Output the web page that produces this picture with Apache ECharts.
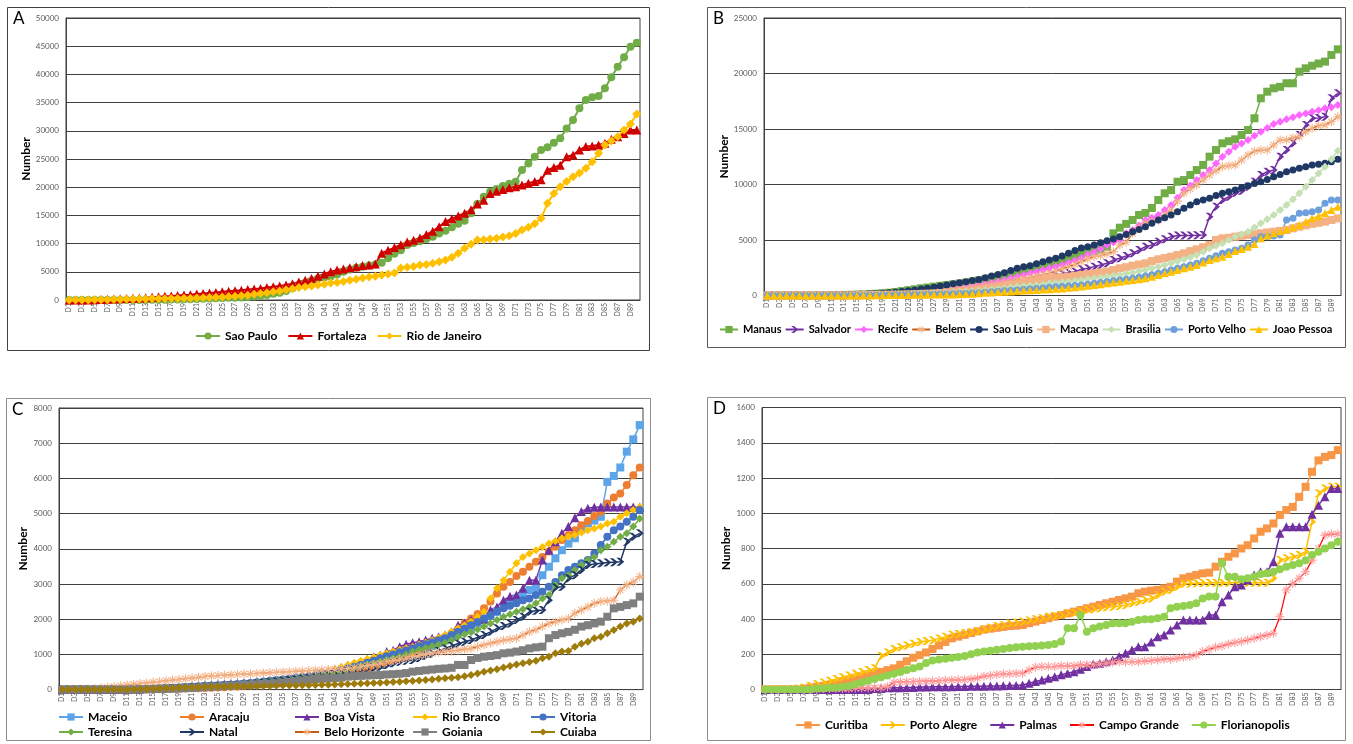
<!DOCTYPE html>
<html><head><meta charset="utf-8">
<script src="https://cdn.jsdelivr.net/npm/echarts@6/dist/echarts.min.js"></script>
<style>html,body{margin:0;padding:0;background:#fff}#chart{width:1353px;height:744px}</style>
</head><body><div id="chart"></div>
<script>
// Day categories D1..D90 (tick labels shown on every other day)
const days = Array.from({length: 90}, (_, i) => 'D' + (i + 1));

// ---- Panel A ----
const saoPaulo = [0,0,0,0,0,0,0,0,0,10, 15,20,30,40,50,60,80,100,120,150, 180,220,260,300,340,380,420,460,500,600,
  750,900,1100,1300,1600,2100,2600,3000,3400,3800, 4000,4150,4500,5000,5400,5700,5900,6100,6300,6600,
  7400,8200,8800,9750,10100,10400,10800,11200,11800,12300, 12900,13500,14060,15400,17000,18300,19200,19700,20200,20600,
  20970,23050,24200,25400,26600,27100,27900,28700,30400,31900, 34000,35460,35940,36170,37530,39490,41370,43030,44900,45620];
const fortaleza = [0,0,0,20,40,80,120,160,200,250, 300,350,420,500,580,650,720,800,880,950, 1050,1150,1250,1350,1450,1550,1650,1750,1850,1950,
  2050,2200,2350,2500,2650,2900,3200,3500,3800,4200, 4600,5000,5300,5500,5700,5900,6100,6200,6400,8300,
  8800,9300,9800,10300,10600,11000,11600,12200,13000,13900, 14400,14900,15400,16000,17000,17700,18900,19300,19600,19900,
  20100,20400,20700,21000,21300,23000,23500,23900,25400,25700, 26600,27200,27300,27500,27800,28500,28960,29500,30150,30150];
const rioDeJaneiro = [0,0,10,20,30,40,60,80,100,120, 140,160,180,200,220,240,260,280,300,330, 360,400,450,500,550,600,650,750,850,1000,
  1150,1300,1450,1600,1800,2000,2200,2350,2500,2650, 2800,3000,3100,3300,3500,3700,3900,4100,4200,4430,
  4600,4800,5670,5800,5950,6200,6300,6500,6800,7100, 7600,8300,9160,9900,10640,10700,10800,10950,11150,11400,
  11800,12400,12900,13500,14480,17150,18900,20100,21000,21870, 22500,23350,24500,26000,27500,28200,28960,30150,31200,33000];

// ---- Panel B ----
const manaus = [0,0,0,0,0,0,0,0,10,20, 30,40,50,60,80,100,130,160,200,250, 320,400,480,560,650,720,800,870,940,1000,
  1080,1160,1250,1350,1450,1580,1700,1850,2000,2150, 2300,2450,2600,2750,2900,3050,3200,3400,3600,3800,
  3900,4000,4150,4400,5600,6110,6450,6800,7250,7430, 7880,8600,9210,9500,10250,10400,10860,11300,11760,12510,
  13110,13710,13900,14070,14460,14910,15970,17770,18360,18670, 18800,19120,19120,20160,20470,20700,20900,21070,21670,22180];
const salvador = [0,0,0,0,0,0,0,0,0,0, 10,20,30,40,50,60,70,80,90,100, 120,140,160,180,200,230,260,290,320,360,
  400,450,500,560,620,700,800,900,1000,1100, 1200,1300,1400,1500,1650,1800,1950,2050,2150,2370,
  2450,2600,2750,2900,3200,3350,3560,3800,4100,4400, 4550,4850,5060,5300,5400,5400,5400,5420,5450,7100,
  8000,8600,8900,9260,9440,9800,10250,10860,11150,11310, 12510,13110,13710,14460,15360,15970,16000,16110,17770,18220];
const recife = [0,0,0,0,0,0,0,0,0,10, 20,30,40,50,60,70,90,110,130,150, 180,210,240,270,300,350,400,470,540,600,
  680,760,850,950,1050,1150,1270,1400,1550,1700, 1850,2000,2150,2300,2450,2600,2750,2950,3150,3380,
  3700,3900,4200,4550,4800,5000,5600,5900,6300,6800, 7000,7250,7700,8150,8800,9500,9900,10400,10850,11310,
  11900,12510,12950,13410,13700,14010,14400,14760,15100,15450, 15650,15870,16050,16260,16400,16560,16700,16870,16960,17160];
const belem = [0,0,0,0,0,0,0,0,0,0, 10,20,30,40,50,60,70,80,90,100, 130,160,200,240,280,330,380,430,480,530,
  590,650,720,800,880,960,1050,1150,1270,1400, 1520,1640,1760,1880,2000,2200,2400,2600,2800,3050,
  3300,3500,3600,3750,3950,4550,4800,5600,6100,6500, 6650,6800,7250,7700,8500,9210,9600,9960,10400,10860,
  11250,11610,11700,11760,12210,12660,13000,13110,13110,13560, 14010,14010,14200,14310,14760,15060,15300,15360,15660,16110];
const saoLuis = [0,0,0,0,0,0,0,0,0,10, 20,30,40,60,80,100,130,160,200,250, 300,360,420,500,580,660,750,850,950,1050,
  1150,1250,1350,1450,1600,1750,1900,2050,2250,2450, 2600,2690,2850,3050,3200,3350,3550,3800,4050,4280,
  4400,4550,4750,4940,5100,5300,5500,5750,5950,6200, 6500,6800,7000,7250,7550,7860,8150,8450,8600,8760,
  9000,9210,9350,9500,9700,9890,10100,10250,10450,10700, 10900,11150,11300,11460,11600,11760,11830,11910,12060,12270];
const macapa = [0,0,0,0,0,0,0,0,0,0, 0,0,0,10,20,30,40,50,60,70, 80,90,100,120,140,160,190,220,260,300,
  350,400,450,520,600,680,760,850,950,1050, 1150,1250,1350,1450,1520,1600,1650,1700,1780,1850,
  1920,2000,2080,2150,2300,2450,2550,2690,2800,2900, 3100,3260,3380,3500,3650,3800,4000,4160,4350,4550,
  5000,5150,5200,5300,5380,5450,5520,5600,5680,5750, 5820,5900,6050,6200,6320,6450,6550,6650,6800,6950];
const brasilia = [0,0,0,0,0,0,0,0,0,0, 10,20,30,40,50,60,70,80,90,100, 110,120,130,150,170,190,210,230,250,280,
  310,350,390,430,480,530,590,650,720,800, 850,900,950,1000,1100,1150,1200,1250,1320,1400,
  1480,1550,1620,1700,1780,1850,1950,2050,2180,2300, 2450,2600,2750,2900,3080,3260,3450,3650,3950,4250,
  4480,4700,5000,5300,5520,5750,6120,6500,6870,7250, 7700,8150,8680,9210,9800,10400,11000,11610,12270,13050];
const portoVelho = [0,0,0,0,0,0,0,0,0,0, 0,0,0,0,0,10,20,30,40,50, 60,70,80,90,100,110,120,130,140,150,
  170,190,220,250,300,340,380,420,460,500, 540,580,620,680,740,780,820,860,900,950,
  1020,1100,1170,1250,1320,1400,1470,1550,1650,1760, 1880,2000,2150,2300,2450,2600,2750,2900,3120,3350,
  3580,3800,3950,4100,4250,4550,5000,5300,5320,5350, 5450,6800,6950,7400,7450,7550,7700,8300,8600,8600];
const joaoPessoa = [0,0,0,0,0,0,0,0,0,0, 0,0,0,0,0,0,10,20,30,40, 50,55,60,65,70,75,80,90,95,100,
  120,140,160,200,250,280,310,340,370,410, 440,470,500,530,560,600,640,690,740,800,
  870,950,1020,1100,1170,1250,1320,1400,1470,1550, 1700,1850,2000,2150,2300,2450,2600,2750,2980,3200,
  3350,3500,3750,4000,4200,4400,4650,5150,5400,5600, 5780,5960,6150,6350,6650,6950,7150,7400,7700,8000];

// ---- Panel C ----
const maceio = [0,0,0,0,0,0,0,0,0,0, 5,8,10,15,20,25,30,40,50,60, 70,80,90,100,110,120,130,140,150,160,
  175,190,205,220,240,260,280,300,325,350, 375,400,430,460,500,540,580,620,660,700,
  770,840,910,960,1000,1080,1160,1240,1320,1400, 1500,1600,1700,1790,1890,1980,2100,2210,2350,2450,
  2590,2730,2830,2900,3250,3490,3730,3960,4150,4300, 4550,4720,4800,4910,5900,6070,6310,6760,7110,7515];
const aracaju = [0,0,0,0,0,0,0,0,0,0, 0,0,0,5,8,10,15,20,25,30, 35,40,45,50,60,70,80,90,100,120,
  140,160,180,200,220,240,260,280,300,320, 340,370,400,430,470,510,550,600,650,700,
  760,820,890,960,1040,1120,1200,1290,1390,1500, 1600,1710,1890,2020,2150,2310,2500,2730,2920,3060,
  3230,3350,3490,3630,3770,3920,4060,4250,4390,4530, 4670,4790,4930,5050,5290,5460,5570,5810,6090,6310];
const boaVista = [0,0,0,0,0,0,0,0,0,0, 10,15,20,30,40,50,60,70,80,100, 110,120,130,140,150,160,170,180,190,200,
  220,240,260,280,300,330,360,390,420,450, 490,530,580,630,690,740,790,860,935,980,
  1080,1120,1220,1290,1330,1360,1410,1460,1500,1550, 1640,1830,1890,1980,1990,2000,2260,2350,2540,2650,
  2690,2880,3110,3110,3680,3960,4200,4440,4630,4880, 5060,5150,5180,5190,5190,5190,5190,5190,5190,5190];
const rioBranco = [0,0,0,0,0,0,0,0,0,0, 5,10,15,20,30,40,50,60,70,80, 90,100,110,120,130,140,150,160,170,180,
  200,220,240,260,280,310,340,370,410,450, 490,530,580,640,700,760,820,870,920,980,
  1030,1080,1130,1180,1220,1280,1340,1400,1470,1550, 1640,1740,1830,1930,2070,2210,2590,2880,3110,3350,
  3590,3770,3870,3960,4050,4150,4220,4300,4350,4390, 4460,4530,4580,4630,4720,4770,4910,5010,5100,5190];
const vitoria = [0,0,0,0,0,0,0,0,0,0, 5,10,15,20,25,30,40,50,60,70, 80,90,100,110,120,130,140,150,170,190,
  210,230,250,270,290,310,330,350,380,410, 440,470,500,540,600,650,700,760,820,890,
  950,1000,1060,1110,1170,1230,1290,1340,1400,1460, 1550,1640,1730,1830,1920,2020,2120,2220,2310,2380,
  2450,2540,2590,2690,2780,2920,3060,3250,3400,3490, 3590,3680,3870,4110,4340,4530,4630,4770,4910,5100];
const teresina = [0,0,0,0,0,0,0,0,0,0, 5,10,15,20,25,30,35,40,50,60, 70,80,90,100,110,120,130,140,160,180,
  200,220,240,260,280,300,320,340,360,380, 410,440,470,510,560,610,660,710,750,790,
  840,890,940,1000,1080,1130,1180,1230,1280,1330, 1400,1500,1570,1630,1710,1790,1880,1980,2070,2140,
  2210,2280,2350,2450,2590,2690,2970,3160,3250,3400, 3540,3680,3770,3960,4060,4200,4340,4440,4630,4860];
const natal = [0,0,0,0,0,0,0,0,0,0, 5,8,10,15,20,25,30,35,40,50, 60,70,80,90,100,110,120,130,140,150,
  170,190,210,230,250,270,290,310,330,350, 380,410,440,470,510,550,580,610,630,650,
  700,750,790,820,840,900,960,1020,1100,1170, 1240,1310,1360,1410,1480,1550,1640,1740,1810,1880,
  1980,2070,2210,2240,2260,2540,2900,2920,3160,3250, 3400,3540,3570,3590,3610,3620,3630,4200,4340,4440];
const beloHorizonte = [0,0,0,10,20,30,50,70,90,110, 130,150,170,190,210,230,250,270,290,310, 330,350,370,390,400,410,420,430,440,450,
  460,470,480,490,500,510,520,530,540,550, 560,570,580,590,600,620,650,680,710,750,
  790,830,860,890,940,970,1000,1030,1060,1080, 1100,1120,1150,1170,1220,1270,1320,1360,1400,1430,
  1460,1550,1640,1700,1790,1880,1930,1980,2020,2170, 2260,2350,2450,2500,2520,2540,2830,2970,3060,3210];
const goiania = [0,0,0,0,0,0,0,0,0,0, 0,0,5,10,15,20,25,30,35,40, 50,60,70,80,90,100,110,120,130,140,
  150,160,170,180,200,220,240,260,280,300, 310,320,330,340,370,380,390,400,410,415,
  430,440,450,470,510,530,550,570,590,600, 620,700,700,840,900,935,955,980,1030,1050,
  1080,1120,1170,1200,1220,1460,1550,1600,1640,1700, 1790,1830,1880,1930,2070,2310,2350,2400,2450,2640];
const cuiaba = [0,0,0,0,0,0,0,0,0,0, 5,10,15,20,25,30,35,40,50,60, 65,70,75,80,82,84,86,88,90,92,
  95,100,105,110,115,118,120,124,127,130, 135,140,145,152,160,168,175,182,188,195,
  205,215,225,235,245,260,275,290,305,320, 335,350,380,415,460,510,545,580,625,670,
  710,750,785,820,890,935,1030,1080,1100,1220, 1300,1360,1460,1500,1600,1690,1790,1880,1930,2020];

// ---- Panel D ----
const curitiba = [0,0,0,0,0,0,5,10,15,20, 25,30,40,50,60,70,80,90,100,110, 120,140,160,180,195,210,230,250,270,290,
  300,310,320,330,340,345,350,355,360,362, 366,376,385,394,404,413,423,432,442,451,
  461,470,480,489,498,508,517,527,546,555, 561,565,574,583,612,631,640,650,659,663,
  697,725,753,772,800,819,857,895,914,942, 990,1018,1036,1093,1150,1235,1300,1320,1330,1358];
const portoAlegre = [0,0,0,0,0,5,10,20,30,40, 50,60,70,80,90,100,110,120,190,210, 230,240,250,260,270,275,280,290,300,310,
  315,320,325,330,340,350,360,365,375,380, 385,391,398,404,413,417,423,432,436,442,
  451,455,461,467,470,474,480,489,498,508, 517,536,555,565,583,600,602,603,604,605,
  605,605,605,605,605,605,606,606,606,631, 735,744,753,763,782,952,1113,1141,1150,1150];
const palmas = [0,0,0,0,0,0,0,0,0,0, 0,0,0,0,0,0,0,5,5,10, 10,10,12,12,14,14,15,15,16,16,
  17,17,18,18,19,20,20,21,22,23, 26,36,45,54,64,73,83,92,101,115,
  130,145,149,158,168,187,206,224,243,243, 270,300,309,338,366,394,394,394,394,423,
  423,498,536,583,593,621,650,668,668,725, 886,923,923,923,923,995,1046,1093,1141,1141];
const campoGrande = [0,0,0,0,0,0,0,0,0,5, 5,5,5,5,8,8,10,10,10,15, 40,42,44,45,46,47,48,50,52,54,
  55,56,60,65,75,80,85,88,90,91, 92,111,126,130,130,130,134,134,134,140,
  140,140,145,149,155,158,158,158,158,161, 164,168,172,172,177,183,187,196,215,228,
  240,247,258,266,272,281,291,300,309,319, 413,565,602,631,668,734,800,876,882,882];
const florianopolis = [0,0,0,0,0,0,0,0,5,5, 10,10,15,20,30,40,50,60,70,80, 90,100,110,120,130,150,165,170,175,180,
  185,190,200,210,215,220,225,230,235,240, 243,245,247,250,253,258,272,347,347,423,
  328,347,357,366,376,376,376,385,394,398, 398,404,413,461,470,474,480,489,517,527,
  527,716,640,640,625,631,640,655,659,668, 682,697,706,716,734,763,782,800,819,838];

// Y axis ranges per panel: [max, interval]
const yRanges = [[50000, 5000], [25000, 5000], [8000, 1000], [1600, 200]];
const panelLetters = ['A', 'B', 'C', 'D'];

const FONT = 'Lato, "Open Sans", sans-serif';
const ASTERISK = 'path://M4.4,0h1.2v10h-1.2z M0,4.4h10v1.2h-10z M1.1,1.9l0.8-0.8l7,7l-0.8,0.8z M8.1,1.1l0.8,0.8l-7,7l-0.8-0.8z';
const CHEVRON = 'path://M0,0 L4,0 L10,5 L4,10 L0,10 L6,5 Z';

// [name, data, line colour, symbol, size, line width, marker colour, panel]
const seriesDefs = [
  ['Sao Paulo', saoPaulo, '#70AD47', 'circle', 8, 2, null, 0],
  ['Fortaleza', fortaleza, '#D00000', 'triangle', 9, 2, null, 0],
  ['Rio de Janeiro', rioDeJaneiro, '#FFC000', 'diamond', 9, 2, null, 0],

  ['Manaus', manaus, '#70AD47', 'rect', 8, 1.5, null, 1],
  ['Salvador', salvador, '#7030A0', CHEVRON, 8, 1.5, null, 1],
  ['Recife', recife, '#FF66FF', 'diamond', 8, 1.5, null, 1],
  ['Belem', belem, '#C55A11', ASTERISK, 9, 1.2, '#F4B183', 1],
  ['Sao Luis', saoLuis, '#1F3864', 'circle', 7, 1.5, null, 1],
  ['Macapa', macapa, '#F4B183', 'rect', 8, 1.5, null, 1],
  ['Brasilia', brasilia, '#C5E0B4', 'diamond', 8, 1.5, null, 1],
  ['Porto Velho', portoVelho, '#6C9FDB', 'circle', 7, 1.5, null, 1],
  ['Joao Pessoa', joaoPessoa, '#FFC000', 'triangle', 8, 1.5, null, 1],

  ['Maceio', maceio, '#5DA5E8', 'rect', 8, 1.5, null, 2],
  ['Aracaju', aracaju, '#ED7D31', 'circle', 8, 1.5, null, 2],
  ['Boa Vista', boaVista, '#7030A0', 'triangle', 9, 1.5, null, 2],
  ['Rio Branco', rioBranco, '#FFC000', 'diamond', 8, 1.5, null, 2],
  ['Vitoria', vitoria, '#4472C4', 'circle', 8, 1.5, null, 2],
  ['Teresina', teresina, '#70AD47', 'diamond', 8, 1.5, null, 2],
  ['Natal', natal, '#203864', CHEVRON, 8, 1.5, null, 2],
  ['Belo Horizonte', beloHorizonte, '#C55A11', ASTERISK, 9, 1.2, '#F4B183', 2],
  ['Goiania', goiania, '#7F7F7F', 'rect', 8, 1.5, null, 2],
  ['Cuiaba', cuiaba, '#9E7C0C', 'diamond', 8, 1.5, null, 2],

  ['Curitiba', curitiba, '#F79646', 'rect', 8, 1.5, null, 3],
  ['Porto Alegre', portoAlegre, '#FFC000', CHEVRON, 8, 1.5, null, 3],
  ['Palmas', palmas, '#7030A0', 'triangle', 9, 1.5, null, 3],
  ['Campo Grande', campoGrande, '#FF0000', ASTERISK, 9, 1.2, '#FF9999', 3],
  ['Florianopolis', florianopolis, '#92D050', 'circle', 8, 1.5, null, 3]
];

// plot areas (pixels)
const grids = [
  {left: 66, top: 18, width: 574, height: 282},
  {left: 764, top: 18, width: 577, height: 277.5},
  {left: 59, top: 408, width: 584, height: 281.6},
  {left: 762, top: 407.5, width: 579, height: 282}
];
const nameGaps = [33, 31, 28, 29];

const chart = echarts.init(document.getElementById('chart'), null, {renderer: 'canvas'});

const option = {
  backgroundColor: '#fff',
  animation: false,
  textStyle: {fontFamily: FONT},
  grid: grids.map(g => Object.assign({show: true, borderColor: '#404040', borderWidth: 1, containLabel: false}, g)),
  xAxis: grids.map((g, i) => ({
    gridIndex: i, type: 'category', data: days, boundaryGap: true,
    axisLine: {lineStyle: {color: '#404040'}},
    axisTick: {show: false},
    axisLabel: {interval: 1, rotate: 90, fontSize: 7, color: '#595959', margin: 3, fontFamily: FONT}
  })),
  yAxis: grids.map((g, i) => ({
    gridIndex: i, type: 'value', min: 0, max: yRanges[i][0], interval: yRanges[i][1],
    name: 'Number', nameLocation: 'middle', nameGap: nameGaps[i],
    nameTextStyle: {fontWeight: 'bold', fontSize: 12, color: '#000', fontFamily: FONT},
    axisLine: {show: true, lineStyle: {color: '#404040'}},
    axisTick: {show: false},
    axisLabel: {fontSize: 8, color: '#595959', margin: 7, fontFamily: FONT, formatter: v => String(v)},
    splitLine: {lineStyle: {color: '#404040', width: 1}}
  })),
  legend: [],
  series: seriesDefs.map(d => ({
    name: d[0], type: 'line', data: d[1],
    xAxisIndex: d[7], yAxisIndex: d[7],
    symbol: d[3], symbolSize: d[4], showAllSymbol: true,
    lineStyle: {color: d[2], width: d[5]},
    itemStyle: {color: d[6] || d[2], borderWidth: 0},
    emphasis: {disabled: true}
  })),
  graphic: []
};

const legendText = {fontSize: 12, fontWeight: 'bold', color: '#000', fontFamily: FONT};
const legendBase = {itemWidth: 24, itemHeight: 9, textStyle: legendText, selectedMode: false, padding: 0};
option.legend.push(Object.assign({data: ['Sao Paulo', 'Fortaleza', 'Rio de Janeiro'], left: 195, top: 330, itemGap: 10}, legendBase));
option.legend.push(Object.assign({}, legendBase, {data: ['Manaus', 'Salvador', 'Recife', 'Belem', 'Sao Luis', 'Macapa', 'Brasilia', 'Porto Velho', 'Joao Pessoa'],
  left: 719, top: 324, itemGap: 3, itemWidth: 18, width: 700,
  textStyle: Object.assign({}, legendText, {fontSize: 11})}));
const cCols = [['Maceio', 'Teresina'], ['Aracaju', 'Natal'], ['Boa Vista', 'Belo Horizonte'], ['Rio Branco', 'Goiania'], ['Vitoria', 'Cuiaba']];
const cLefts = [58, 179, 294, 412, 530];
cCols.forEach((col, k) => option.legend.push(Object.assign({data: col, orient: 'vertical', left: cLefts[k], top: 711, itemGap: 3}, legendBase)));
option.legend.push(Object.assign({data: ['Curitiba', 'Porto Alegre', 'Palmas', 'Campo Grande', 'Florianopolis'], left: 795, top: 719, itemGap: 12}, legendBase));

// panel frames and letters
const frames = [[7, 7, 642, 343, '#404040'], [707, 7, 638, 340, '#595959'], [6, 398, 644, 342, '#8C8C8C'], [707, 397, 638, 343, '#8C8C8C']];
frames.forEach((f, i) => {
  option.graphic.push({type: 'rect', shape: {x: f[0] + 0.5, y: f[1] + 0.5, width: f[2], height: f[3]}, style: {fill: 'none', stroke: f[4], lineWidth: 1}, silent: true, z: -1});
  option.graphic.push({type: 'text', left: f[0] + 6, top: f[1] + 3, style: {text: panelLetters[i], fontSize: 17, fill: '#000', fontFamily: FONT}, silent: true});
});

chart.setOption(option);
</script></body></html>
